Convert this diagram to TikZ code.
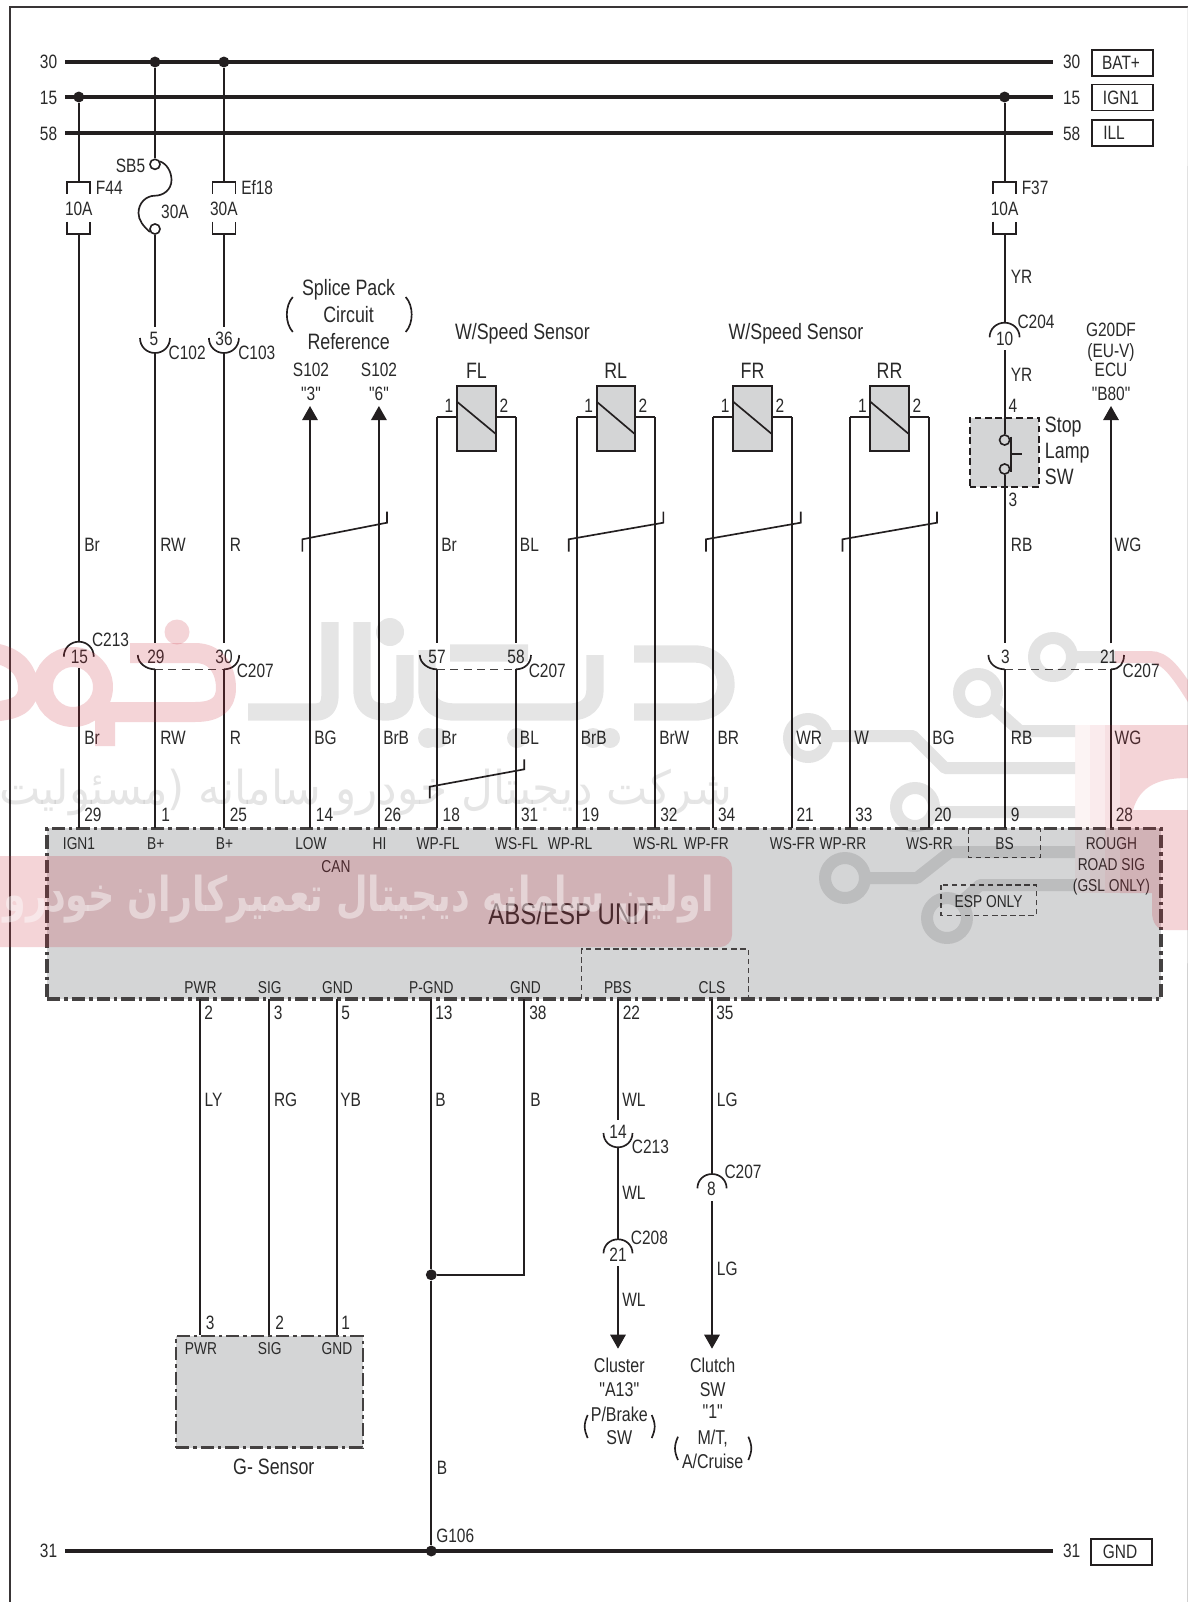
\documentclass[tikz,border=0pt]{standalone}
\usepackage{fontspec}
\setmainfont{Liberation Sans}[FakeStretch=0.8,Ligatures=TeXOff]
\newfontfamily\arabicfont[Script=Arabic]{DejaVu Sans}
\TeXXeTstate=1
\usetikzlibrary{arrows.meta}
\definecolor{ink}{HTML}{231F20}
\definecolor{txtc}{HTML}{2A2A2A}
\definecolor{unitgrey}{HTML}{D4D5D6}
\definecolor{wmred}{HTML}{C8283A}
\newcounter{lblc}
\tikzset{
  wire/.style={draw=ink,line width=1.45pt},
  thinw/.style={draw=ink,line width=1.25pt},
  bus/.style={draw=ink,line width=3.3pt},
  tip/.style={-{Triangle[length=10.5pt,width=11.5pt]}},
  lab/.style={inner sep=0pt,text=txtc,font=\fontsize{14.5}{16}\selectfont,text height=10.44pt,text depth=0pt},
  cen/.style={lab,anchor=center},
  lft/.style={lab,anchor=west},
  rgt/.style={lab,anchor=east},
  pin/.style={lab,anchor=center,font=\fontsize{12.9}{14}\selectfont,text height=9.29pt},
  pinl/.style={lab,anchor=west},
  mid/.style={lab,anchor=center,font=\fontsize{15}{17}\selectfont,text height=10.8pt},
  big/.style={lab,anchor=center,font=\fontsize{16.7}{18}\selectfont,text height=12pt},
  bigl/.style={big,anchor=west},
  title/.style={lab,anchor=center,font=\fontsize{22.5}{24}\selectfont,text height=16.2pt},
  tagbox/.style={draw=ink,line width=1.3pt,inner sep=0pt,minimum width=46.2pt,minimum height=19.5pt},
  joint/.style={circle,fill=ink,inner sep=0pt,minimum size=8.2pt},
  hollow/.style={circle,draw=ink,fill=white,line width=1.2pt,inner sep=0pt,minimum size=7.6pt},
  swcontact/.style={circle,draw=ink,fill=unitgrey,line width=1.2pt,inner sep=0pt,minimum size=7.6pt},
  unitbox/.style={draw=ink!85!white,fill=unitgrey,line width=2.3pt,dash pattern=on 10pt off 3pt on 2.6pt off 3pt,inner sep=0pt},
  sensorbox/.style={draw=ink,fill=unitgrey,line width=1.5pt,inner sep=0pt},
  fine/.style={draw=ink!85!white,line width=1.1pt,dash pattern=on 4pt off 2.8pt},
}
% vertical wire between two named coordinates
\newcommand\wire[4]{\coordinate (#1a) at (#2,#3);\coordinate (#1b) at (#2,#4);\draw[wire] (#1a) -- (#1b);}
\newcommand\tx[4][cen]{\stepcounter{lblc}\node[#1] (lbl\arabic{lblc}) at (#2,#3) {#4};}
% fuse: centre x, label
\newcommand\fuse[5]{% name,x,amp,labelx,label
  \coordinate (#1t) at (#2,181.7);\coordinate (#1b) at (#2,234.3);
  \draw[thinw] ({#2-11.5},193.7) -- ({#2-11.5},181.7) -- ({#2+11.5},181.7) -- ({#2+11.5},193.7);
  \draw[thinw] ({#2-11.5},221.7) -- ({#2-11.5},234.3) -- ({#2+11.5},234.3) -- ({#2+11.5},221.7);
  \tx{#2}{209}{#3}\tx[lft]{#4}{187.7}{#5}}
% cup (opens up) and arch (opens down)
\newcommand\cupc[4]{\draw[thinw] ({#1-#4},#2) .. controls +(0,{(#3-#2)*.58}) and +({-#4*.55},0) .. (#1,#3) .. controls +({#4*.55},0) and +(0,{(#3-#2)*.58}) .. ({#1+#4},#2);}
\newcommand\archc[4]{\draw[thinw] ({#1-#4},#2) .. controls +(0,{(#3-#2)*.58}) and +({-#4*.55},0) .. (#1,#3) .. controls +({#4*.55},0) and +(0,{(#3-#2)*.58}) .. ({#1+#4},#2);}
% two-pin dashed connector
\newcommand\twinc[4]{% xl xr hwl hwr
  \draw[thinw] ({#1-#3},655) .. controls +(0,8) and +(-9,0) .. (#1,669.3);
  \draw[thinw] (#2,669.3) .. controls +(9,0) and +(0,8) .. ({#2+#4},655);
  \draw[fine,dash pattern=on 6pt off 4pt] (#1,669.3) -- (#2,669.3);}
% twisted-pair mark
\newcommand\twist[6]{\draw[thinw] (#1,#2) -- (#1,#3) -- (#4,#5) -- (#4,#6);}
% speed sensor
\newcommand\sensor[4]{% name, left wire x, right wire x, label
  \coordinate (#1L) at (#2,417.3);\coordinate (#1R) at (#3,417.3);
  \node[sensorbox,minimum width={(#3-#2-40)*.75pt},minimum height=48.6pt] (#1) at ({(#2+#3)/2},418.3) {};
  \draw[thinw] ({#2+20},401.7) -- ({#3-20},434);
  \draw[thinw] (#1.west |- #1L) -- (#1L);\draw[thinw] (#1.east |- #1R) -- (#1R);
  \tx{{#2+12}}{406}{1}\tx{{#3-12}}{406}{2}\tx[big]{{(#2+#3)/2}}{370.7}{#4}}
\newcommand\paren[4]{\draw[thinw] (#1,#2) .. controls +({#4*1.33},9) and +({#4*1.33},-9) .. (#1,#3);}
\begin{document}
\begin{tikzpicture}[x=.75pt,y=-.75pt]
\useasboundingbox (0,0) rectangle (1188,1602);
\fill[white] (0,0) rectangle (1188,1602);
% frame
\coordinate (fr1) at (10,1602);\coordinate (fr2) at (10,7);\coordinate (fr3) at (1188,7);\coordinate (fr4) at (1187.5,1602);
\draw[draw=ink!90!white,line width=1.7pt] (fr1) -- (fr2) -- (fr3);
\draw[draw=black!18,line width=.7pt] (fr3) -- (fr4);

% ---- unit and boxes
\node[unitbox,minimum width=835.5pt,minimum height=128pt] (abs) at (604,913.65) {};
\node[unitbox,line width=1.6pt,minimum width=140.2pt,minimum height=83.6pt] (gsens) at (269.2,1391.8) {};
\node[sensorbox,dash pattern=on 5pt off 2.8pt,minimum width=52.3pt,minimum height=52.2pt] (stopbox) at (1004.6,452.5) {};

% ---- buses
\foreach \nm/\yy in {b30/62,b15/97,b58/133,b31/1551}{
  \coordinate (\nm L) at (65,\yy);\coordinate (\nm R) at (1052.6,\yy);
  \draw[bus] (\nm L) -- (\nm R);}
\tx{48.6}{62}{30}\tx{48.6}{98}{15}\tx{48.6}{134}{58}\tx{48.6}{1551}{31}
\tx{1071.7}{62}{30}\tx{1071.7}{98}{15}\tx{1071.7}{134}{58}\tx{1071.7}{1551}{31}
\node[tagbox] (tagbat) at (1122.5,63) {};\tx{1121}{63}{BAT+}
\node[tagbox] (tagign) at (1122.5,97.5) {};\tx{1121}{97.5}{IGN1}
\node[tagbox] (tagill) at (1122.5,133) {};\tx{1114}{133}{ILL}
\node[tagbox] (taggnd) at (1121.5,1552) {};\tx{1120}{1552}{GND}

% ---- top wires
\node[joint] (j1) at (78.8,97) {};
\node[joint] (j2) at (155,62) {};
\node[joint] (j3) at (223.9,62) {};
\node[joint] (j4) at (1004.6,97) {};
\node[joint] (j5) at (431.3,1274.8) {};
\node[joint] (j6) at (431.3,1551) {};

\fuse{fa}{78.8}{10A}{95.7}{F44}
\fuse{fb}{223.9}{30A}{241}{Ef18}
\fuse{fc}{1004.6}{10A}{1021.5}{F37}
\draw[wire] (j1) -- (fat);
\draw[wire] (j3) -- (fbt);
\draw[wire] (j4) -- (fct);

% SB5 fusible link
\node[hollow] (sb1) at (155,164.3) {};
\node[hollow] (sb2) at (155,229) {};
\draw[wire] (j2) -- (sb1);
\draw[thinw] (sb1.30) .. controls (167,164) and (171.5,172) .. (171.5,180) .. controls (171.5,190) and (163,195.7) .. (155,195.7) .. controls (146,195.7) and (138.5,203) .. (138.5,213) .. controls (138.5,220) and (143,226) .. (sb2.210);
\tx[rgt]{145.4}{165.7}{SB5}\tx{175}{211.7}{30A}

% connector 5 C102 and 36 C103
\coordinate (c5t) at (155,326.7);\coordinate (c5b) at (155,353);
\coordinate (c36t) at (223.9,326.7);\coordinate (c36b) at (223.9,353);
\draw[wire] (sb2) -- (c5t);
\draw[wire] (fbb) -- (c36t);
\draw[wire] (fab) -- (78.8,641.7);
\cupc{155}{338}{353}{15}\cupc{223.9}{338}{353}{15}
\tx{154}{339}{5}\tx{224}{339}{36}
\tx[lft]{168.4}{353}{C102}\tx[lft]{238}{353}{C103}

% lower-level connectors
\archc{78.8}{656.7}{641.7}{15}
\tx{79.5}{657}{15}\tx[lft]{91.8}{640}{C213}
\wire{w1}{78.8}{668}{828}
\wire{w2u}{155}{353}{643.3}
\wire{w3u}{223.9}{353}{643.3}
\twinc{155}{223.9}{17.2}{15.3}
\tx{156}{656.7}{29}\tx{224}{656.7}{30}\tx[lft]{236.5}{671}{C207}
\wire{w2}{155}{669.3}{828}
\wire{w3}{223.9}{669.3}{828}

\draw[wire,tip] (310,828) -- (310,406);
\draw[wire,tip] (378.9,828) -- (378.9,406);

% sensors
\sensor{sFL}{437}{515.9}{FL}
\sensor{sRL}{576.7}{654.8}{RL}
\sensor{sFR}{713.2}{791.8}{FR}
\sensor{sRR}{850.3}{928.8}{RR}
\draw[wire] (sFLL) -- (437,643.3);
\draw[wire] (sFLR) -- (515.9,643.3);
\wire{wfl1}{437}{669.3}{828}\wire{wfl2}{515.9}{669.3}{828}
\twinc{437}{515.9}{17.2}{15.1}
\tx{437}{656.7}{57}\tx{516}{656.7}{58}\tx[lft]{528.5}{671}{C207}
\foreach \nm/\xx in {sRLL/576.7,sRLR/654.8,sFRL/713.2,sFRR/791.8,sRRL/850.3,sRRR/928.8}{
  \draw[wire] (\nm) -- (\xx,828);}

% twisted pairs
\twist{302.4}{551.7}{539.3}{387}{522.7}{511.7}
\twist{568.7}{551.7}{539.3}{663.4}{522.7}{511.7}
\twist{706}{551.7}{539.3}{800.7}{522.7}{511.7}
\twist{842.5}{551.7}{539.3}{937}{522.7}{511.7}
\twist{429.8}{798.3}{786.7}{524.3}{769.3}{759.3}

% stop lamp
\coordinate (c10t) at (1004.6,322.7);\coordinate (c10b) at (1004.6,350);
\draw[wire] (fcb) -- (c10t);
\archc{1004.6}{337.3}{322.7}{15}
\tx{1004.6}{339}{10}\tx[lft]{1017.3}{321.7}{C204}
\node[swcontact] (sw1) at (1004.6,440) {};
\node[swcontact] (sw2) at (1004.6,469) {};
\draw[wire] (c10b) -- (sw1);
\draw[wire] (sw2) -- (1004.6,643.3);
\draw[wire] (1011.3,436.7) -- (1011.3,471.7);
\draw[wire] (1011.3,454) -- (1021.5,454);
\tx[bigl]{1044.7}{424}{Stop}\tx[bigl]{1044.7}{450.7}{Lamp}\tx[bigl]{1044.7}{476.7}{SW}
\tx{1013}{405.7}{4}\tx{1013}{500}{3}
\twinc{1004.6}{1111}{16.2}{13}
\tx{1005.5}{656.7}{3}\tx{1108.7}{656.7}{21}\tx[lft]{1122.4}{671}{C207}
\wire{wrb}{1004.6}{669.3}{828}
\wire{wwg}{1111}{669.3}{828}
\draw[wire,tip] (1111,643.3) -- (1111,406);

% wire labels
\foreach \xx/\tt in {84/Br,160/RW,229.6/R,314/BG,383/BrB,441/Br,519.7/BL,580.6/BrB,659/BrW,717.4/BR,796/WR,854/W,932/BG,1010.7/RB,1114.4/WG}{
  \tx[lft]{\xx}{737.7}{\tt}}
\foreach \xx/\tt in {84/Br,160/RW,229.6/R,441/Br,519.7/BL,1010.7/RB,1114.4/WG}{
  \tx[lft]{\xx}{544.5}{\tt}}
\tx[lft]{1010.6}{276.7}{YR}\tx[lft]{1010.6}{374.3}{YR}

% pin numbers top of unit
\foreach \xx/\tt in {84/29,161/1,229.6/25,315.7/14,383.8/26,442.4/18,520.8/31,581.7/19,660/32,717.8/34,796.3/21,855/33,934/20,1010.7/9,1115.5/28}{
  \tx[pinl]{\xx}{814.3}{\tt}}
% pin names
\foreach \xx/\tt in {79/IGN1,155.8/B+,224.6/B+,311/LOW,379.6/HI,438/WP-FL,516.6/WS-FL,570/WP-RL,655.6/WS-RL,706.3/WP-FR,792.5/WS-FR,843/WP-RR,929.4/WS-RR,1004.6/BS,1111.4/ROUGH}{
  \tx[pin]{\xx}{843.3}{\tt}}
\tx[pin]{1111.4}{864.3}{ROAD SIG}\tx[pin]{1111.4}{885}{(GSL ONLY)}
\tx[pin]{336}{866.7}{CAN}
\tx[pin]{988.6}{901}{ESP ONLY}
\tx[title]{571}{914}{ABS/ESP UNIT}
% dashed sub-boxes
\draw[fine] (968.7,828.3) -- (968.7,857.7) -- (1040.4,857.7) -- (1040.4,828.3);
\draw[fine] (940.9,885) rectangle (1036.6,915.3);
\draw[fine] (581.7,999) -- (581.7,949) -- (748.3,949) -- (748.3,999);

% bottom pins
\foreach \xx/\tt in {200.5/PWR,269.8/SIG,337.5/GND,431.3/P-GND,525.4/GND,617.8/PBS,712/CLS}{
  \tx[pin]{\xx}{987.3}{\tt}}
\foreach \xx/\tt in {204/2,273.5/3,341/5,435/13,529/38,622.5/22,716/35}{
  \tx[pinl]{\xx}{1012.7}{\tt}}
\wire{wp}{199.8}{999}{1335}
\wire{ws}{269}{999}{1335}
\wire{wg}{336.8}{999}{1335}
\draw[wire] (431.3,999) -- (j5) -- (j6);
\draw[wire] (524.3,999) -- (524.3,1274.8) -- (j5);
\foreach \xx/\tt in {204.3/LY,273.8/RG,340/YB,435/B,530/B,622/WL,716.7/LG}{
  \tx[lft]{\xx}{1100}{\tt}}
\tx[lft]{436.5}{1468}{B}\tx[lft]{436}{1536}{G106}

% G sensor labels
\tx[pinl]{205.5}{1322.8}{3}\tx[pinl]{275}{1322.8}{2}\tx[pinl]{341}{1322.8}{1}
\tx[pin]{201}{1348}{PWR}\tx[pin]{269.7}{1348}{SIG}\tx[pin]{337}{1348}{GND}
\tx[big]{273.8}{1466}{G- Sensor}

% WL run
\wire{wl1}{618}{999}{1120}
\cupc{618}{1133}{1147.3}{14.5}
\tx{618}{1131.7}{14}\tx[lft]{631.7}{1146.7}{C213}
\wire{wl2}{618}{1147.3}{1239.3}
\archc{618}{1253.3}{1239.3}{14.5}
\tx{618}{1254.3}{21}\tx[lft]{630.7}{1237.3}{C208}
\draw[wire,tip] (618,1266) -- (618,1348.7);
\tx[lft]{622}{1192.7}{WL}\tx[lft]{622}{1299.3}{WL}
\tx[mid]{619.3}{1365.7}{Cluster}\tx[mid]{619.3}{1389}{"A13"}\tx[mid]{619.3}{1414.3}{P/Brake}\tx[mid]{619.3}{1437.7}{SW}
\paren{587.7}{1415}{1438}{-3}\paren{651.7}{1415}{1438}{3}
% LG run
\wire{lg1}{712}{999}{1174}
\archc{712}{1188.3}{1174}{14.6}
\tx{711.5}{1189}{8}\tx[lft]{724.3}{1171.7}{C207}
\draw[wire,tip] (712,1201) -- (712,1348.7);
\tx[lft]{716.7}{1268.3}{LG}
\tx[mid]{712.7}{1365.7}{Clutch}\tx[mid]{712.7}{1389.3}{SW}\tx[mid]{712.7}{1411.7}{"1"}\tx[mid]{712.7}{1437.7}{M/T,}\tx[mid]{712.7}{1461.7}{A/Cruise}
\paren{678}{1436.7}{1460}{-3}\paren{748.3}{1436.7}{1460}{3}

% top-mid texts
\tx[big]{348.6}{287.7}{Splice Pack}\tx[big]{348.6}{314}{Circuit}\tx[big]{348.6}{341.7}{Reference}
\paren{292.8}{297}{332}{-6}\paren{405.7}{297}{332}{6}
\tx{311}{370}{S102}\tx{311}{394}{"3"}\tx{379}{370}{S102}\tx{379}{394}{"6"}
\tx[big]{522.4}{331.7}{W/Speed Sensor}\tx[big]{796}{331.7}{W/Speed Sensor}
\tx{1111}{329.3}{G20DF}\tx{1111}{350.7}{(EU-V)}\tx{1111}{369.3}{ECU}\tx{1111}{393.3}{"B80"}

% ---- watermark on top
\begin{scope}
\clip (0,0) rectangle (1188,1602);
% red band
\fill[wmred,opacity=.2,rounded corners=9pt] (-40,856) rectangle (732,947);
\node[anchor=east,inner sep=0pt,text=white,opacity=.45,xscale=.76,transform shape] (wmband) at (714,899)
  {\arabicfont\bfseries\fontsize{36}{38}\selectfont\beginR اولین سامانه دیجیتال تعمیرکاران خودرو\endR};
\node[anchor=east,inner sep=0pt,text=black,opacity=.1,xscale=.94,transform shape] (wmline) at (732,792)
  {\arabicfont\fontsize{35}{38}\selectfont\beginR شرکت دیجیتال خودرو سامانه (مسئولیت\endR};
% logotype, red part
\draw[wmred,opacity=.2,line width=15pt,line join=round]
   (-20,652) .. controls (15,652) and (28,670) .. (28,688) .. controls (28,705) and (15,712) .. (-20,712)
   (73,687) circle (30)
   (105,712) -- (105,746)
   (130,653) -- (195,653) .. controls (220,653) and (226,675) .. (226,688) .. controls (226,705) and (215,712) .. (195,712) -- (100,712);
\fill[wmred,opacity=.2] (177,632) circle (12.5);
% logotype, grey part
\draw[black,opacity=.1,line width=13pt,line join=round]
   (248,712) -- (316,712) .. controls (326,712) and (330,705) .. (330,695) -- (330,622)
   (362,622) -- (362,690) .. controls (362,705) and (370,712) .. (385,712) .. controls (400,712) and (405,705) .. (405,695) -- (405,655)
   (450,653) -- (528,653)
   (427,650) -- (427,690) .. controls (427,705) and (438,712) .. (455,712) -- (570,712) .. controls (587,712) and (595,702) .. (595,690) -- (595,655)
   (634,654) -- (695,654) .. controls (715,654) and (726,670) .. (726,684) .. controls (726,700) and (715,712) .. (695,712) -- (634,712);
\fill[black,opacity=.1] (390,632) circle (14) (428,738) circle (10) (438,738) circle (10) (517,738) circle (10) (593,738) circle (10) (610,738) circle (10);
% circuit logo
\draw[black,opacity=.11,line width=9pt,line join=round]
   (1053,657) circle (19) (1072,657) -- (1115,657)
   (978,693) circle (19) (992,706) -- (1020,731) -- (1075,731)
   (808,738) circle (19) (827,736) -- (913,736) -- (945,768) -- (1075,768)
   (915,807) circle (19) (934,812) -- (1075,812)
   (845,878) circle (20) (865,878) -- (917,878) -- (950,852) -- (1075,852)
   (947,918) circle (20) (960,903) -- (980,885) -- (1075,885);
% car
\fill[wmred,opacity=.2,even odd rule]
   (1120,725) -- (1188,725) -- (1188,930) -- (1165,930) .. controls (1157,930) and (1152,922) .. (1152,912) -- (1152,893) -- (1120,893) -- cycle
   (1188,778) .. controls (1160,778) and (1140,785) .. (1133,810) -- (1188,810) -- cycle;
\fill[wmred,opacity=.05] (1075,725) rectangle (1090,893);
\fill[wmred,opacity=.09] (1090,725) rectangle (1105,893);
\fill[wmred,opacity=.14] (1105,725) rectangle (1120,893);
\draw[wmred,opacity=.2,line width=9pt] (1115,657) -- (1150,657) .. controls (1165,657) and (1175,670) .. (1195,702);
\end{scope}
\end{tikzpicture}
\end{document}
